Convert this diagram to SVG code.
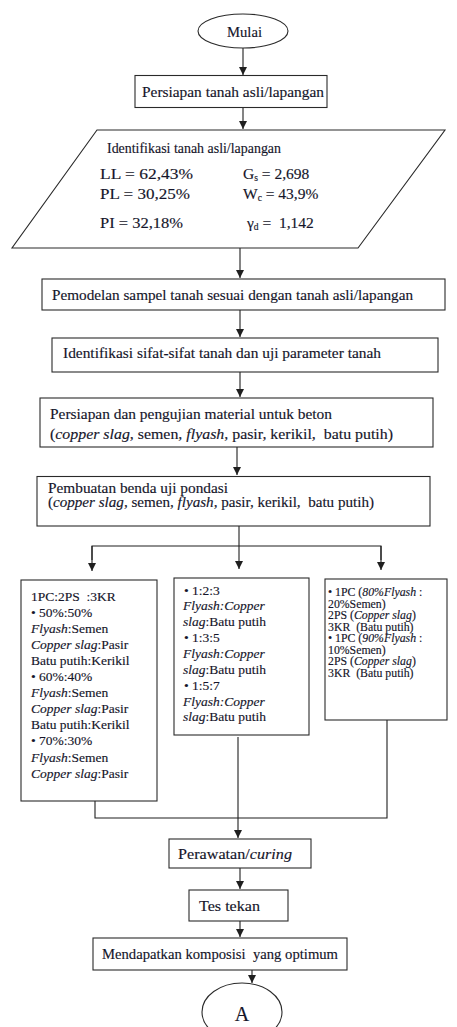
<svg xmlns="http://www.w3.org/2000/svg" width="457" height="1027" viewBox="0 0 457 1027">
<style>
.bx{fill:#fff;stroke:#2a2a2a;stroke-width:1.1}
.ln{fill:none;stroke:#1f1f1f;stroke-width:1.1}
text{font-family:"Liberation Serif","Times New Roman",serif;fill:#15152a;stroke:#15152a;stroke-width:0.15}
.m{font-size:15px}
.c{font-size:13.5px}
.r{font-size:11.8px}
.i{font-style:italic}
</style>
<defs>
<marker id="ah" markerUnits="userSpaceOnUse" markerWidth="8" markerHeight="8" refX="8" refY="4" orient="auto">
<path d="M0,0 L8,4 L0,8 z" fill="#1f1f1f"/>
</marker>
</defs>
<rect width="457" height="1027" fill="#fff"/>
<g id="connectors">
<line class="ln" x1="243" y1="48" x2="243" y2="75" marker-end="url(#ah)"/>
<line class="ln" x1="243" y1="108" x2="243" y2="129" marker-end="url(#ah)"/>
<line class="ln" x1="240" y1="248" x2="240" y2="278" marker-end="url(#ah)"/>
<line class="ln" x1="240" y1="310" x2="240" y2="337" marker-end="url(#ah)"/>
<line class="ln" x1="240" y1="372" x2="240" y2="397" marker-end="url(#ah)"/>
<line class="ln" x1="237" y1="447" x2="237" y2="475" marker-end="url(#ah)"/>
<polyline class="ln" points="239,526 239,546"/>
<polyline class="ln" points="92,560 92,546 381,546 381,560"/>
<line class="ln" x1="92" y1="546" x2="92" y2="571" marker-end="url(#ah)"/>
<line class="ln" x1="239" y1="546" x2="239" y2="569" marker-end="url(#ah)"/>
<line class="ln" x1="381" y1="546" x2="381" y2="570" marker-end="url(#ah)"/>
<polyline class="ln" points="95,801 95,818 387,818 387,720"/>
<line class="ln" x1="238" y1="737" x2="238" y2="838" marker-end="url(#ah)"/>
<line class="ln" x1="240" y1="868" x2="240" y2="889" marker-end="url(#ah)"/>
<line class="ln" x1="240" y1="921" x2="240" y2="937" marker-end="url(#ah)"/>
<line class="ln" x1="252" y1="970" x2="252" y2="983" marker-end="url(#ah)"/>
</g>
<g id="mulai">
<ellipse class="bx" cx="243" cy="31" rx="45" ry="17"/>
<text x="227" y="36.5" class="m" textLength="35" lengthAdjust="spacingAndGlyphs">Mulai</text>
</g>
<g id="persiapan-tanah">
<rect class="bx" x="135" y="75.5" width="192" height="32"/>
<text x="142" y="97" class="m" textLength="182" lengthAdjust="spacingAndGlyphs">Persiapan tanah asli/lapangan</text>
</g>
<g id="identifikasi-tanah">
<polygon class="bx" points="97,130 445,130 358,248 12,248"/>
<text x="107" y="152.5" font-size="14.5" textLength="174" lengthAdjust="spacingAndGlyphs">Identifikasi tanah asli/lapangan</text>
<text x="100" y="179" font-size="15.5" textLength="93" lengthAdjust="spacingAndGlyphs">LL = 62,43%</text>
<text x="243" y="179" font-size="15.5">G<tspan font-size="9.5" dy="2">s</tspan><tspan dy="-2"> = 2,698</tspan></text>
<text x="100" y="199" font-size="15.5" textLength="90" lengthAdjust="spacingAndGlyphs">PL = 30,25%</text>
<text x="243" y="199" font-size="15.5">W<tspan font-size="9.5" dy="2">c</tspan><tspan dy="-2"> = 43,9%</tspan></text>
<text x="100" y="228" font-size="15.5" textLength="83" lengthAdjust="spacingAndGlyphs">PI = 32,18%</text>
<text x="247" y="228" font-size="15.5">γ<tspan font-size="9.5" dy="2">d</tspan><tspan dy="-2" xml:space="preserve"> =  1,142</tspan></text>
</g>
<g id="pemodelan">
<rect class="bx" x="42" y="279" width="403" height="31"/>
<text x="52" y="299.5" class="m" textLength="361" lengthAdjust="spacingAndGlyphs">Pemodelan sampel tanah sesuai dengan tanah asli/lapangan</text>
</g>
<g id="identifikasi-sifat">
<rect class="bx" x="52" y="338" width="386" height="34"/>
<text x="63" y="357.5" class="m" textLength="318" lengthAdjust="spacingAndGlyphs">Identifikasi sifat-sifat tanah dan uji parameter tanah</text>
</g>
<g id="persiapan-material">
<rect class="bx" x="40" y="398" width="393" height="49"/>
<text x="50" y="418.5" class="m" textLength="282" lengthAdjust="spacingAndGlyphs">Persiapan dan pengujian material untuk beton</text>
<text x="50" y="438.5" class="m" textLength="343" lengthAdjust="spacingAndGlyphs" xml:space="preserve">(<tspan class="i">copper slag</tspan>, semen, <tspan class="i">flyash</tspan>, pasir, kerikil,  batu putih)</text>
</g>
<g id="pembuatan">
<rect class="bx" x="37" y="476.5" width="393" height="49.5"/>
<text x="48" y="492.5" class="m" textLength="180" lengthAdjust="spacingAndGlyphs">Pembuatan benda uji pondasi</text>
<text x="48" y="507" class="m" textLength="326" lengthAdjust="spacingAndGlyphs" xml:space="preserve">(<tspan class="i">copper slag</tspan>, semen, <tspan class="i">flyash</tspan>, pasir, kerikil,  batu putih)</text>
</g>
<g id="kolom-kiri">
<rect class="bx" x="21" y="580" width="136" height="221"/>
<text x="31" y="600.5" class="c" xml:space="preserve">1PC:2PS  :3KR</text>
<text x="31" y="616.6" class="c">• 50%:50%</text>
<text x="31" y="632.7" class="c"><tspan class="i">Flyash</tspan>:Semen</text>
<text x="31" y="648.8" class="c"><tspan class="i">Copper slag</tspan>:Pasir</text>
<text x="31" y="664.9" class="c">Batu putih:Kerikil</text>
<text x="31" y="681" class="c">• 60%:40%</text>
<text x="31" y="697.1" class="c"><tspan class="i">Flyash</tspan>:Semen</text>
<text x="31" y="713.2" class="c"><tspan class="i">Copper slag</tspan>:Pasir</text>
<text x="31" y="729.3" class="c">Batu putih:Kerikil</text>
<text x="31" y="745.4" class="c">• 70%:30%</text>
<text x="31" y="761.5" class="c"><tspan class="i">Flyash</tspan>:Semen</text>
<text x="31" y="777.6" class="c"><tspan class="i">Copper slag</tspan>:Pasir</text>
</g>
<g id="kolom-tengah">
<rect class="bx" x="174" y="578" width="135" height="157"/>
<text x="184" y="594.5" class="c">• 1:2:3</text>
<text x="183" y="610.4" class="c i">Flyash:Copper</text>
<text x="183" y="626.2" class="c"><tspan class="i">slag</tspan>:Batu putih</text>
<text x="184" y="642" class="c">• 1:3:5</text>
<text x="183" y="657.9" class="c i">Flyash:Copper</text>
<text x="183" y="673.8" class="c"><tspan class="i">slag</tspan>:Batu putih</text>
<text x="184" y="689.6" class="c">• 1:5:7</text>
<text x="183" y="705.5" class="c i">Flyash:Copper</text>
<text x="183" y="721.3" class="c"><tspan class="i">slag</tspan>:Batu putih</text>
</g>
<g id="kolom-kanan">
<rect class="bx" x="325" y="579" width="122" height="141"/>
<text x="328" y="596" class="r">• 1PC (<tspan class="i">80%Flyash</tspan> :</text>
<text x="328" y="607.5" class="r">20%Semen)</text>
<text x="328" y="619" class="r">2PS (<tspan class="i">Copper slag</tspan>)</text>
<text x="328" y="630.5" class="r" xml:space="preserve">3KR  (Batu putih)</text>
<text x="328" y="642" class="r">• 1PC (<tspan class="i">90%Flyash</tspan> :</text>
<text x="328" y="653.5" class="r">10%Semen)</text>
<text x="328" y="665" class="r">2PS (<tspan class="i">Copper slag</tspan>)</text>
<text x="328" y="676.5" class="r" xml:space="preserve">3KR  (Batu putih)</text>
</g>
<g id="perawatan">
<rect class="bx" x="169" y="839" width="142" height="29"/>
<text x="178" y="859" class="m" textLength="114" lengthAdjust="spacingAndGlyphs">Perawatan/<tspan class="i">curing</tspan></text>
</g>
<g id="tes-tekan">
<rect class="bx" x="189" y="890" width="99" height="31"/>
<text x="199" y="911" class="m" textLength="61" lengthAdjust="spacingAndGlyphs">Tes tekan</text>
</g>
<g id="mendapatkan">
<rect class="bx" x="93" y="938" width="254" height="32"/>
<text x="102" y="959" class="m" textLength="236" lengthAdjust="spacingAndGlyphs" xml:space="preserve">Mendapatkan komposisi  yang optimum</text>
</g>
<g id="a">
<ellipse class="bx" cx="242" cy="1012" rx="40" ry="29"/>
<text x="242" y="1021" font-size="20" text-anchor="middle">A</text>
</g>
</svg>
